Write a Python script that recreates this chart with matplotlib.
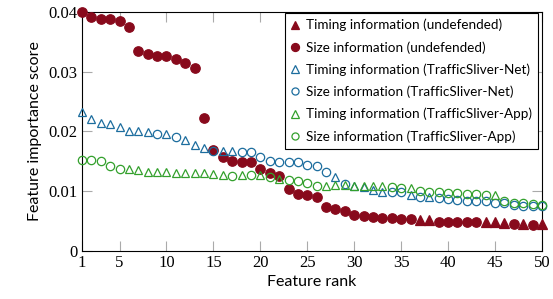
import matplotlib
matplotlib.use("Agg")
import matplotlib.pyplot as plt
import numpy as np

# -----------------------------
# Data
# -----------------------------
ranks = np.arange(1, 51)

# undefended: importance per rank, and whether the feature is timing (T) or size (S)
undef_vals = [0.0400, 0.0392, 0.0389, 0.0388, 0.0385, 0.0375, 0.0334, 0.0329, 0.0327, 0.0326,
              0.0321, 0.0315, 0.0306, 0.0222, 0.0169, 0.0158, 0.0151, 0.0149, 0.0149, 0.0138,
              0.0131, 0.0125, 0.0103, 0.0096, 0.0094, 0.0091, 0.0073, 0.0070, 0.0067, 0.0061,
              0.0059, 0.0057, 0.0056, 0.0055, 0.0054, 0.0054, 0.0052, 0.0052, 0.0049, 0.0049,
              0.0049, 0.0048, 0.0048, 0.0048, 0.0048, 0.0047, 0.0046, 0.0046, 0.0044, 0.0046]
undef_kind = list("SSSSSSSSSSSSSSSSSSSSSSSSSSSSSSSSSSSSTTSSSSSTTTSTST")

net_vals = [0.0233, 0.0221, 0.0214, 0.0213, 0.0207, 0.0201, 0.0201, 0.0199, 0.0196, 0.0196,
            0.0190, 0.0185, 0.0177, 0.0172, 0.0167, 0.0168, 0.0168, 0.0166, 0.0166, 0.0158,
            0.0150, 0.0149, 0.0149, 0.0149, 0.0144, 0.0142, 0.0133, 0.0124, 0.0112, 0.0108,
            0.0107, 0.0102, 0.0099, 0.0099, 0.0098, 0.0094, 0.0091, 0.0091, 0.0088, 0.0087,
            0.0085, 0.0084, 0.0084, 0.0083, 0.0081, 0.0080, 0.0077, 0.0075, 0.0075, 0.0075]
net_kind = list("TTTTTTTTSTSTTTSTTSSSSSSSSSSTSTTTTSSTSTSSSSSSSSSSSS")

app_vals = [0.0153, 0.0152, 0.0151, 0.0142, 0.0138, 0.0138, 0.0136, 0.0133, 0.0133, 0.0132,
            0.0131, 0.0131, 0.0130, 0.0130, 0.0129, 0.0128, 0.0126, 0.0128, 0.0127, 0.0128,
            0.0124, 0.0121, 0.0119, 0.0117, 0.0114, 0.0108, 0.0109, 0.0110, 0.0110, 0.0108,
            0.0108, 0.0109, 0.0109, 0.0107, 0.0105, 0.0105, 0.0101, 0.0099, 0.0098, 0.0097,
            0.0097, 0.0095, 0.0095, 0.0094, 0.0094, 0.0084, 0.0080, 0.0080, 0.0079, 0.0077]
app_kind = list("SSSSSTTTTTTTTTTTSTSTSTSSSSTTTTTTTSSTSSSSSSSSTSSSSS")

xticks = [1, 5, 10, 15, 20, 25, 30, 35, 40, 45, 50]
yticks = [0, 0.01, 0.02, 0.03, 0.04]
ytick_labels = ["0", "0.01", "0.02", "0.03", "0.04"]

RED = "#880a1c"
BLUE = "#1c6d9e"
GREEN = "#33a02c"
SANS = ["Lato", "DejaVu Sans"]
SERIF = ["Liberation Serif", "DejaVu Serif"]

# -----------------------------
# Figure
# -----------------------------
fig = plt.figure(figsize=(5.53, 2.99), dpi=100)
ax = fig.add_axes([0.1483, 0.1605, 0.8317, 0.7995])


def draw(vals, kind, color, name, filled):
    vals = np.array(vals)
    kind = np.array(kind)
    t = kind == "T"
    s = kind == "S"
    face = color if filled else "none"
    ax.plot(ranks[t], vals[t], linestyle="none", marker="^", ms=6.5 if filled else 6.3,
            mfc=face, mec=color, mew=0.9, clip_on=False, zorder=3,
            label="Timing information (%s)" % name)
    ax.plot(ranks[s], vals[s], linestyle="none", marker="o", ms=6.8 if filled else 6.0,
            mfc=face, mec=color, mew=0.9, clip_on=False, zorder=3,
            label="Size information (%s)" % name)


draw(undef_vals, undef_kind, RED, "undefended", True)
draw(net_vals, net_kind, BLUE, "TrafficSliver-Net", False)
draw(app_vals, app_kind, GREEN, "TrafficSliver-App", False)

ax.set_xlim(1, 50)
ax.set_ylim(0, 0.04)
ax.set_xticks(xticks)
ax.set_yticks(yticks)
ax.set_yticklabels(ytick_labels)
ax.tick_params(direction="in", length=7, width=0.8, color="#aaaaaa",
               top=True, right=True, labelsize=12, pad=3)
for lab in ax.get_xticklabels() + ax.get_yticklabels():
    lab.set_family(SERIF)
for sp in ax.spines.values():
    sp.set_linewidth(0.8)

ax.set_xlabel("Feature rank", family=SANS, fontsize=11.5, labelpad=3)
ax.set_ylabel("Feature importance score", family=SANS, fontsize=11.5, labelpad=5)

leg = ax.legend(loc="upper right", bbox_to_anchor=(0.992, 0.997), borderaxespad=0,
                prop={"family": SANS, "size": 9.7}, fancybox=False, framealpha=1,
                edgecolor="black", handlelength=0.7, handletextpad=0.45,
                labelspacing=0.72, borderpad=0.45, markerscale=0.85)
leg.get_frame().set_linewidth(0.8)
leg.set_zorder(5)

fig.savefig("out.png", dpi=100)
